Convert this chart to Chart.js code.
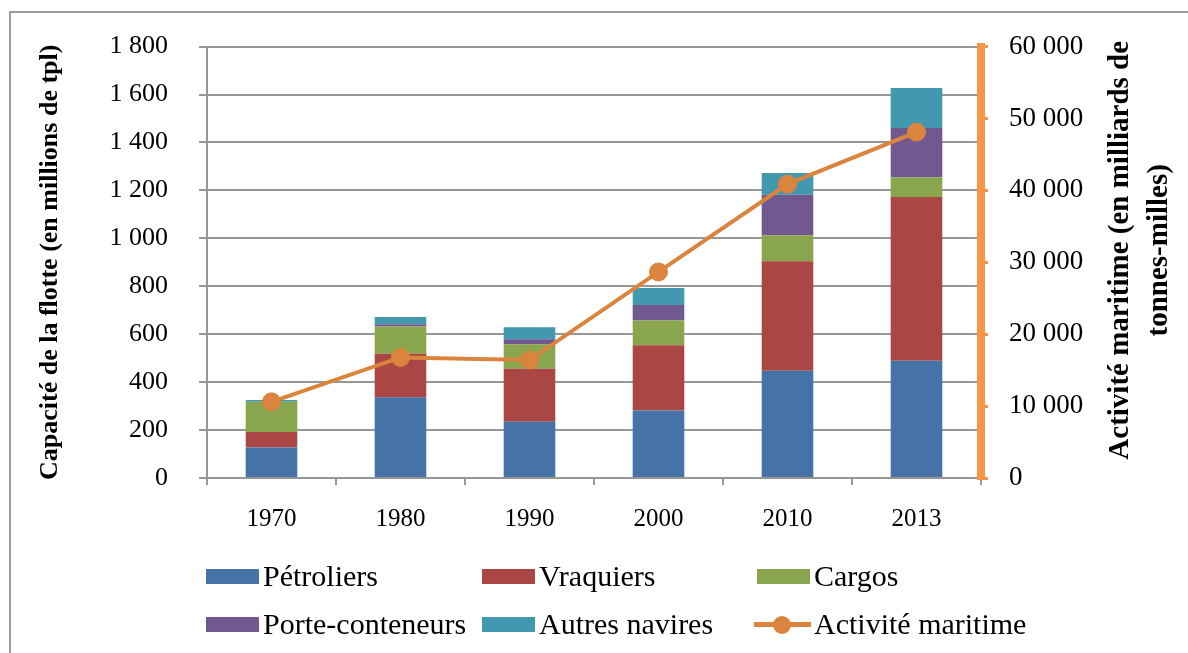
<!DOCTYPE html>
<html lang="fr">
<head>
<meta charset="UTF-8">
<title>Capacité de la flotte et activité maritime</title>
<script src="https://cdn.jsdelivr.net/npm/chart.js"></script>
<style>
  body { margin: 0; background: #fff; }
  .cadre { position: relative; width: 1188px; height: 653px; overflow: hidden; }
  .bordure { position: absolute; left: 9px; top: 11px; width: 1220px; height: 700px;
             border: 2px solid #9d9d9d; box-sizing: border-box; pointer-events: none; }
  .item { position: absolute; height: 30px; display: flex; align-items: center;
          font: 30px "Liberation Serif", "Times New Roman", serif; color: #000; white-space: nowrap; }
  .boite { width: 53px; height: 15px; margin-right: 4px; }
  .trait { position: relative; width: 57px; height: 15px; margin-left: -3px; margin-right: 3px; }
  .trait::before { content: ""; position: absolute; left: 0; right: 0; top: 5px; height: 5px; background: var(--c); }
  .trait::after { content: ""; position: absolute; left: 19px; top: -1px; width: 18px; height: 18px;
                  border-radius: 50%; background: var(--c); }
</style>
</head>
<body>
<div class="cadre">
  <canvas id="graphique"></canvas>
  <div class="bordure"></div>
  <div id="legende"></div>
</div>

<script>
  // données
  const annees = ['1970', '1980', '1990', '2000', '2010', '2013'];
  const petroliers = [127, 337, 235, 282, 448, 489];
  const vraquiers = [65, 181, 221, 272, 456, 683];
  const cargos = [126, 114, 102, 103, 109, 82];
  const porteConteneurs = [0, 9, 21, 65, 169, 206];
  const autresNavires = [7, 31, 50, 71, 91, 167];
  const activite = [10600, 16770, 16400, 28660, 40870, 48110];

  const titreCapacite = 'Capacité de la flotte (en millions de tpl)';
  const titreActivite = ['Activité maritime (en milliards de', 'tonnes-milles)'];

  const gris = '#979797';
  const police = '"Liberation Serif", "Times New Roman", serif';

  function milliers(v) {
    return String(v).replace(/\B(?=(\d{3})+(?!\d))/g, ' ');
  }

  // titre de l'axe de droite, lu de bas en haut comme à gauche
  const titreDroit = {
    id: 'titreDroit',
    afterDraw(chart) {
      const ctx = chart.ctx;
      const yc = (chart.chartArea.top + chart.chartArea.bottom) / 2 - 12;
      ctx.save();
      ctx.font = 'bold 29px ' + police;
      ctx.fillStyle = '#000';
      ctx.textAlign = 'center';
      ctx.textBaseline = 'middle';
      titreActivite.forEach((ligne, i) => {
        ctx.save();
        ctx.translate(1121 + i * 39, yc);
        ctx.rotate(-Math.PI / 2);
        ctx.fillText(ligne, 0, 0);
        ctx.restore();
      });
      ctx.restore();
    }
  };

  const barre = (label, data, couleur) => ({
    type: 'bar', label, data, backgroundColor: couleur,
    yAxisID: 'y', order: 1, barPercentage: 0.4, categoryPercentage: 1
  });

  const graphique = new Chart(document.getElementById('graphique'), {
    data: {
      labels: annees,
      datasets: [
        barre('Pétroliers', petroliers, '#4572A7'),
        barre('Vraquiers', vraquiers, '#AA4643'),
        barre('Cargos', cargos, '#89A54E'),
        barre('Porte-conteneurs', porteConteneurs, '#71588F'),
        barre('Autres navires', autresNavires, '#4198AF'),
        {
          type: 'line', label: 'Activité maritime', data: activite, yAxisID: 'y1', order: 0,
          borderColor: '#DB843D', backgroundColor: '#DB843D', borderWidth: 4,
          pointRadius: 9, pointBorderWidth: 1, pointBackgroundColor: '#DB843D', tension: 0
        }
      ]
    },
    options: {
      responsive: true,
      maintainAspectRatio: false,
      animation: false,
      layout: { padding: { top: 44, left: 0, right: 0, bottom: 0 } },
      plugins: { legend: { display: false }, tooltip: { enabled: false } },
      scales: {
        x: {
          stacked: true,
          grid: { drawOnChartArea: false, offset: true, color: gris, lineWidth: 2, tickLength: 7 },
          border: { color: gris, width: 2 },
          ticks: { color: '#000', font: { family: police, size: 25 }, padding: 19 },
          afterFit(s) { s.height = 653 - 478; }
        },
        y: {
          stacked: true, position: 'left', min: 0, max: 1800,
          grid: { color: gris, lineWidth: 2, tickLength: 8 },
          border: { color: gris, width: 2 },
          ticks: { stepSize: 200, color: '#000', font: { family: police, size: 26 }, padding: 31,
                   callback: v => milliers(v) },
          title: { display: true, text: titreCapacite, color: '#000',
                   font: { family: police, size: 26, weight: 'bold' }, padding: { top: 35, bottom: 0 } },
          afterFit(s) { s.width = 207; }
        },
        y1: {
          stacked: false, position: 'right', min: 0, max: 60000,
          grid: { drawOnChartArea: false, color: '#F79646', lineWidth: 3, tickLength: 7 },
          border: { color: '#F79646', width: 8 },
          ticks: { stepSize: 10000, color: '#000', font: { family: police, size: 27 }, padding: 21,
                   callback: v => milliers(v) },
          afterFit(s) { s.width = 1188 - 981; }
        }
      }
    },
    plugins: [titreDroit]
  });

  // légende en trois colonnes, comme dans l'original
  const colonnes = [206, 482, 757];
  const lignes = [561, 609];
  const legende = document.getElementById('legende');
  graphique.data.datasets.forEach((ds, i) => {
    const item = document.createElement('div');
    item.className = 'item';
    item.style.left = colonnes[i % 3] + 'px';
    item.style.top = lignes[Math.floor(i / 3)] + 'px';
    const signe = document.createElement('span');
    if (ds.type === 'line') {
      signe.className = 'trait';
      signe.style.setProperty('--c', ds.borderColor);
    } else {
      signe.className = 'boite';
      signe.style.background = ds.backgroundColor;
    }
    item.appendChild(signe);
    item.appendChild(document.createTextNode(ds.label));
    legende.appendChild(item);
  });
</script>
</body>
</html>
